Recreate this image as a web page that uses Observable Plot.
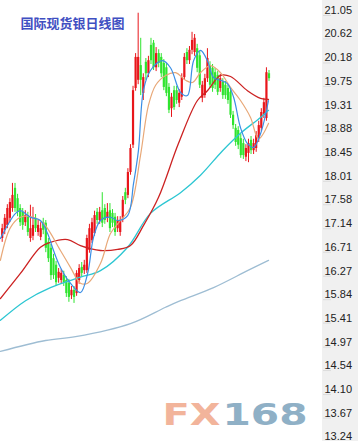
<!DOCTYPE html>
<html><head><meta charset="utf-8">
<script src="https://cdn.jsdelivr.net/npm/d3@7"></script>
<script src="https://cdn.jsdelivr.net/npm/@observablehq/plot@0.6"></script>
<style>
html,body{margin:0;padding:0;background:#fff;}
</style>
</head><body>
<div id="chart"></div>
<script>
const title = "国际现货银日线图";
const watermarkA = "FX";
const watermarkB = "168";

// daily candles (open, close, high, low)
const opens = [16.87,17.02,17.11,17.24,17.42,17.79,17.60,17.42,17.35,17.16,17.29,16.87,16.91,17.24,16.98,16.89,17.16,17.15,16.80,16.69,16.50,16.38,16.14,16.10,16.19,16.10,16.05,15.82,15.92,15.86,16.10,16.34,16.28,16.28,16.65,16.83,16.96,17.35,17.20,17.38,17.42,17.24,17.38,17.33,17.26,17.05,16.98,17.24,17.71,17.66,18.08,18.58,19.62,19.77,20.04,19.53,20.10,19.89,20.41,20.45,20.00,20.26,20.19,20.08,20.00,19.64,19.25,19.58,19.58,19.35,19.46,19.82,20.28,20.13,20.32,20.28,20.35,20.22,19.44,19.49,19.80,20.04,19.99,19.91,19.86,19.62,19.73,19.68,19.62,19.55,19.13,18.89,18.85,18.70,18.61,18.36,18.43,18.67,18.48,18.52,18.70,18.89,19.13,19.07,19.89];
const closes = [17.05,17.24,17.42,17.53,17.66,17.42,17.35,17.16,17.11,17.29,16.98,17.05,17.11,17.05,17.11,17.05,17.02,16.69,16.50,16.19,16.19,16.06,16.25,16.23,16.06,15.86,15.79,15.92,15.79,16.23,16.32,16.23,16.38,16.87,17.05,17.16,17.29,17.20,17.35,17.15,17.20,17.35,17.05,17.15,16.98,17.20,17.20,17.57,17.57,18.08,18.52,19.58,20.19,20.19,19.77,19.82,19.89,20.13,20.13,20.00,20.26,20.08,19.89,19.64,19.53,19.22,19.46,19.27,19.40,19.53,19.82,20.19,20.13,20.32,20.50,20.54,19.99,19.68,19.68,19.80,20.17,19.68,19.62,19.68,19.55,19.80,19.49,19.49,19.40,19.13,18.94,18.63,18.58,18.39,18.39,18.52,18.61,18.48,18.61,18.76,18.94,19.18,19.36,19.91,19.80];
const highs = [17.13,17.31,17.49,17.60,17.88,17.88,17.68,17.49,17.42,17.38,17.35,17.48,17.44,17.31,17.20,17.16,17.24,17.20,16.87,16.76,16.58,16.45,16.32,16.30,16.27,16.17,16.12,15.99,15.99,16.28,16.39,16.43,16.47,16.93,17.13,17.24,17.37,17.42,17.44,17.71,17.49,17.51,17.51,17.40,17.33,17.27,17.27,17.64,17.79,18.15,18.59,19.66,20.26,21.00,20.54,19.89,20.17,20.21,20.54,20.50,20.37,20.33,20.26,20.15,20.08,19.71,19.53,19.66,19.66,19.60,19.89,20.26,20.35,20.39,20.65,20.61,20.43,20.30,19.75,19.88,20.35,20.11,20.06,19.99,19.93,19.88,19.80,19.75,19.69,19.62,19.20,18.96,18.92,18.78,18.69,18.59,18.69,18.74,18.69,18.83,19.02,19.25,19.44,20.00,19.95];
const lows = [16.80,16.94,17.05,17.16,17.35,17.35,17.27,17.09,17.02,17.09,16.91,16.80,16.83,16.98,16.91,16.83,16.94,16.61,16.43,16.10,16.12,15.99,16.05,16.03,15.99,15.79,15.70,15.75,15.68,15.81,16.03,16.16,16.21,16.23,16.60,16.78,16.91,17.13,17.13,17.07,17.13,17.16,16.98,17.07,16.91,16.98,16.91,17.16,17.49,17.60,18.03,18.52,19.57,19.69,19.49,19.40,19.77,19.82,20.06,19.95,19.93,20.00,19.82,19.58,19.47,19.16,19.09,19.22,19.33,19.27,19.40,19.77,20.06,20.06,20.24,20.21,19.91,19.62,19.36,19.44,19.73,19.62,19.55,19.60,19.49,19.55,19.42,19.42,19.33,19.07,18.87,18.56,18.50,18.34,18.32,18.28,18.26,18.41,18.41,18.45,18.63,18.83,19.07,19.02,19.75];

// moving averages (candle position, price)
const ma5Idx = [-0.7,5.2,7.1,11,14.9,17.7,20,22.7,26.6,30.5,33.3,35.6,38.3,42.2,45,48.9,51.2,53.1,55.1,57.8,62.5,65.6,69.5,72.2,74.6,77.3,80,82.4,85.1,87.8,90.2,92.9,95.6,98,100.7,103.8];
const ma5Val = [16.87,17.33,17.38,17.26,17.20,16.96,16.65,16.34,16.05,15.88,16.23,16.89,17.20,17.26,17.20,17.29,17.88,18.48,19.60,19.95,20.13,20.00,19.55,19.49,20.13,20.32,20.13,19.82,19.77,19.71,19.46,18.90,18.61,18.54,18.79,19.40];
const ma10Idx = [-0.7,3.2,7.1,12.2,16.1,22.7,26.6,30.5,33.3,38.3,42.2,46.1,50,53.9,57,59.8,63.7,67.6,71.5,74.2,77.3,81.2,85.1,89,92.9,96.8,99.9,103.8];
const ma10Val = [16.47,17.07,17.26,17.26,17.15,16.65,16.34,16.05,16.05,16.41,16.96,17.20,17.44,18.39,19.31,19.68,19.86,19.91,19.77,19.73,19.91,20.04,19.91,19.64,19.40,19.09,18.70,18.98];
const ma20Idx = [-0.7,7.1,14.9,18.8,25.5,30.5,38.3,45,50,55.1,60.9,68.7,76.1,80,85.1,89,95.6,100.7,103.8];
const ma20Val = [15.77,16.23,16.71,16.80,16.85,16.74,16.65,16.67,16.74,17.11,17.62,18.61,19.40,19.58,19.86,19.84,19.58,19.44,19.42];
const ma60Idx = [-0.7,9.1,18.8,30.5,38.3,48.9,57.8,69.5,77.3,85.9,92.9,100.7,103.8];
const ma60Val = [15.37,15.73,15.97,16.16,16.28,16.71,17.33,17.71,18.03,18.48,18.80,19.09,19.22];
const ma120Idx = [-0.7,16.9,28.6,50,63.7,69.5,82.4,95.6,103.8];
const ma120Val = [14.80,15.00,15.07,15.31,15.61,15.73,15.97,16.28,16.47];

const yTicks = [21.05,20.62,20.18,19.75,19.31,18.88,18.45,18.01,17.58,17.14,16.71,16.27,15.84,15.41,14.97,14.54,14.10,13.67,13.24];

const UP = "#e8161b", DOWN = "#2fe42f";
const candles = opens.map((o, i) => ({i, open: o, close: closes[i], high: highs[i], low: lows[i], up: closes[i] >= o}));
const series = (idx, val) => idx.map((x, k) => ({i: x, v: val[k]}));

const chart = Plot.plot({
  width: 358, height: 441,
  marginLeft: 0, marginRight: 36, marginTop: 0, marginBottom: 0,
  x: {domain: [0, 104], range: [1.7, 268.5], axis: null},
  y: {domain: [13.24, 21.05], range: [436, 10]},
  style: {background: "linear-gradient(to right, #ffffff 0px, #ffffff 322px, #f0f0f0 322px)", fontFamily: "Liberation Sans, sans-serif", overflow: "visible"},
  marks: [
    Plot.text([watermarkA], {frameAnchor: "bottom-left", dx: 162, dy: -26, lineAnchor: "middle", textAnchor: "start", fontSize: 31, fontWeight: "bold", fontFamily: "DejaVu Sans", fill: "#f2b49b"}),
    Plot.text([watermarkB], {frameAnchor: "bottom-left", dx: 222, dy: -26, lineAnchor: "middle", textAnchor: "start", fontSize: 31, fontWeight: "bold", fontFamily: "DejaVu Sans", fill: "#8fb0c6"}),
    Plot.ruleX(candles, {x: "i", y1: "low", y2: "high", stroke: d => d.up ? UP : DOWN, strokeWidth: 1}),
    Plot.ruleX(candles, {x: "i", y1: "open", y2: "close", stroke: d => d.up ? UP : DOWN, strokeWidth: 2.2}),
    Plot.line(series(ma120Idx, ma120Val), {x: "i", y: "v", stroke: "#9ebdd3", strokeWidth: 1.3, curve: "catmull-rom"}),
    Plot.line(series(ma60Idx, ma60Val), {x: "i", y: "v", stroke: "#2cc6d2", strokeWidth: 1.3, curve: "catmull-rom"}),
    Plot.line(series(ma20Idx, ma20Val), {x: "i", y: "v", stroke: "#cc2222", strokeWidth: 1.3, curve: "catmull-rom"}),
    Plot.line(series(ma10Idx, ma10Val), {x: "i", y: "v", stroke: "#e8a878", strokeWidth: 1.2, curve: "catmull-rom"}),
    Plot.line(series(ma5Idx, ma5Val), {x: "i", y: "v", stroke: "#3a8ee6", strokeWidth: 1.2, curve: "catmull-rom"}),
    Plot.axisY(yTicks, {anchor: "right", tickSize: 8, dy: 5, stroke: "#dcdcdc", text: null, label: null}),
    Plot.axisY(yTicks, {anchor: "right", tickSize: 0, tickPadding: 2, tickFormat: d => d.toFixed(2), fontSize: 11, fill: "#222", label: null, fontFamily: "Liberation Sans"}),
    Plot.text([title], {frameAnchor: "top-left", dx: 20, dy: 23, lineAnchor: "middle", textAnchor: "start", fontSize: 13, fontWeight: "bold", fontFamily: "Noto Sans CJK SC", fill: "#3f4fc2"})
  ]
});
document.getElementById("chart").appendChild(chart);
chart.querySelectorAll("text").forEach(t => {
  if (t.textContent === watermarkA) { t.setAttribute("textLength", 58); t.setAttribute("lengthAdjust", "spacingAndGlyphs"); }
  if (t.textContent === watermarkB) { t.setAttribute("textLength", 85); t.setAttribute("lengthAdjust", "spacingAndGlyphs"); }
});
</script>
</body></html>
